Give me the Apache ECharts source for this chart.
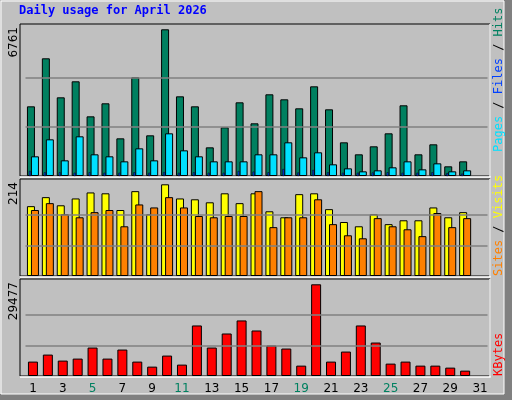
<!DOCTYPE html>
<html><head><meta charset="utf-8">
<script src="https://cdn.jsdelivr.net/npm/echarts@6/dist/echarts.min.js"></script>
<style>html,body{margin:0;padding:0;background:#c0c0c0}#c{width:512px;height:400px}</style>
</head><body><div id="c"></div>
<script>
const days = Array.from({length:31},(_,i)=>String(i+1));
const weekend = ['4','5','11','12','18','19','25','26'];
const hits = [3211,5424,3626,4364,2750,3350,1736,4548,1875,6761,3672,3211,1321,2243,3396,2428,3765,3534,3119,4133,3073,1552,999,1368,1967,3258,999,1460,446,676];
const files = [907,1690,722,1829,999,907,676,1275,722,1967,1183,907,676,676,676,999,999,1552,860,1091,538,353,215,261,400,676,307,584,215,261];
const pages = [230,170,170,150,170,150,150,170,150,180,150,170,150,150,230,200,170,320,160,280,170,150,150,160,170,150,150,170,130,110];
const visits = [163,184,165,181,195,193,154,198,144,214,181,179,172,193,170,193,151,137,191,193,156,126,116,144,121,130,130,160,137,149];
const sites = [154,170,144,137,149,154,116,167,160,184,160,140,137,140,140,198,114,137,137,179,121,95,88,135,116,109,93,147,114,135];
const kbytes = [4626,6885,4949,5594,9144,5594,8499,4626,3012,6562,3658,16244,9144,13663,17858,14631,9790,8822,3335,29477,4626,7853,16244,10758,3980,4626,3335,3335,2689,1721];

const L=25.5, W=462;
const panels=[{top:25,h:151,max:6761},{top:180,h:96,max:214},{top:280,h:96,max:29477}];
function ymax(p){return p.max*p.h/(p.h-4.3);}
const grids=panels.map(p=>({left:L,width:W,top:p.top,height:p.h}));
grids.push({left:L-3,width:W,top:25,height:151});
const xAxis=grids.map((g,i)=>({gridIndex:i,type:'category',data:days,show:i===2,
  axisLine:{show:false},axisTick:{show:false},
  axisLabel:{margin:7,fontSize:12,fontFamily:'DejaVu Sans',color:(v)=>weekend.includes(v)?'#008060':'#000'}}));
const yAxis=grids.map((g,i)=>{const p=panels[i===3?0:i];return {gridIndex:i,type:'value',min:0,max:ymax(p),show:false,splitLine:{show:false}};});
function ml(p){return {silent:true,symbol:'none',label:{show:false},lineStyle:{color:'#808080',type:'solid',width:1.5},
  data:[{yAxis:p.max/3},{yAxis:2*p.max/3}]};}
const bs={borderColor:'#000',borderWidth:1};
const series=[
 {type:'bar',xAxisIndex:0,yAxisIndex:0,data:hits,barWidth:8,barGap:'-50%',itemStyle:{color:'#008060',...bs},markLine:ml(panels[0]),z:3},
 {type:'bar',xAxisIndex:0,yAxisIndex:0,data:files,barWidth:8,barGap:'-50%',itemStyle:{color:'#00e0ff',...bs},z:3},
 {type:'bar',xAxisIndex:3,yAxisIndex:3,data:pages,barWidth:2,itemStyle:{color:'#0040ff',borderColor:'#000',borderWidth:0.5},z:4},
 {type:'bar',xAxisIndex:1,yAxisIndex:1,data:visits,barWidth:8,barGap:'-50%',itemStyle:{color:'#ffff00',...bs},markLine:ml(panels[1]),z:3},
 {type:'bar',xAxisIndex:1,yAxisIndex:1,data:sites,barWidth:8,barGap:'-50%',itemStyle:{color:'#ff8000',...bs},z:3},
 {type:'bar',xAxisIndex:2,yAxisIndex:2,data:kbytes,barWidth:10,itemStyle:{color:'#ff0000',...bs},markLine:ml(panels[2]),z:3}
];
const tf='DejaVu Sans Mono';
const graphic=[
 {type:'rect',z:-10,shape:{x:0,y:0,width:512,height:400},style:{fill:'#c0c0c0'}},
 {type:'rect',z:-9,shape:{x:504,y:0,width:8,height:400},style:{fill:'#808080'}},
 {type:'rect',z:-9,shape:{x:0,y:394,width:512,height:6},style:{fill:'#808080'}},
 {type:'rect',z:-9,shape:{x:1,y:1,width:503,height:393},style:{fill:'none',stroke:'#fff',lineWidth:1}},
 {type:'text',left:19,top:5,style:{text:'Daily usage for April 2026',fill:'#0000ff',font:'bold 12px '+tf}},
];
panels.forEach((p,i)=>{
 graphic.push({type:'rect',z:-5,shape:{x:20,y:p.top-1,width:470,height:p.h+1},style:{fill:'#c0c0c0',stroke:'#000',lineWidth:1}});
 graphic.push({type:'polyline',z:-4,shape:{points:[[490,p.top-1],[490,p.top+p.h+1],[20,p.top+p.h+1]]},style:{stroke:'#fff',lineWidth:1.5,fill:'none'}});
 graphic.push({type:'text',x:8,y:p.top+2,rotation:Math.PI/2,style:{text:String(p.max),fill:'#000',font:'12px DejaVu Sans',align:'right',verticalAlign:'top'}});
});
function rlab(y,parts){graphic.push({type:'text',x:493,y:y,rotation:Math.PI/2,style:{text:parts.map(q=>'{'+q[1]+'|'+q[0]+'}').join(''),align:'left',verticalAlign:'top',
 rich:{a:{fill:'#00e0ff',font:'12px '+tf},b:{fill:'#0040ff',font:'12px '+tf},c:{fill:'#008060',font:'12px '+tf},k:{fill:'#000',font:'12px '+tf},
  o:{fill:'#ff8000',font:'12px '+tf},y:{fill:'#ffff00',font:'12px '+tf},r:{fill:'#ff0000',font:'12px '+tf}}}});}
rlab(152,[['Pages','a'],[' / ','k'],['Files','b'],[' / ','k'],['Hits','c']]);
rlab(276,[['Sites','o'],[' / ','k'],['Visits','y']]);
rlab(376,[['KBytes','r']]);
const chart=echarts.init(document.getElementById('c'));
chart.setOption({animation:false,backgroundColor:'#c0c0c0',grid:grids,xAxis,yAxis,series,graphic});
</script></body></html>
